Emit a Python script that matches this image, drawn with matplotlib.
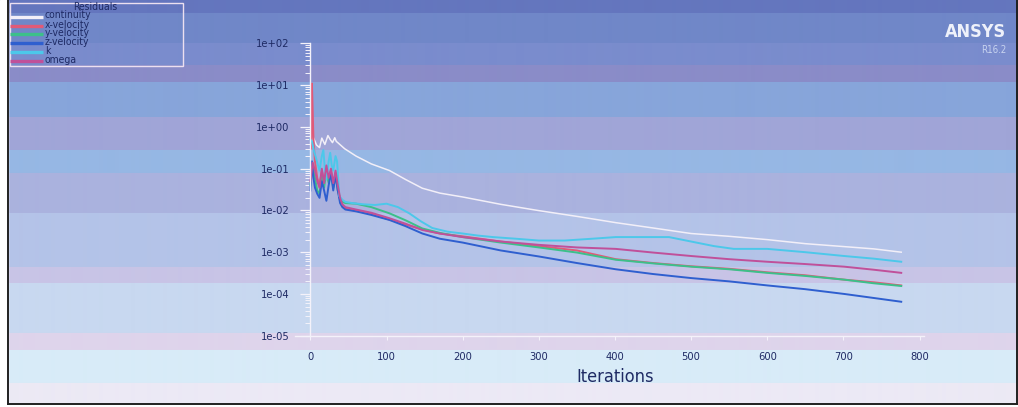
import numpy as np
import matplotlib
matplotlib.use("Agg")
import matplotlib.pyplot as plt
from matplotlib.patches import Rectangle
from matplotlib.ticker import FixedLocator, FixedFormatter, LogLocator, NullFormatter

# ---------------- data ----------------
series_names = ["continuity", "x-velocity", "y-velocity", "z-velocity", "k", "omega"]

it_cont = [1, 4, 8, 12, 15, 19, 23, 26, 29, 32, 34, 36, 45, 60, 80, 104, 125, 147, 170, 200,
           250, 300, 350, 401, 450, 500, 550, 600, 650, 701, 740, 776]
continuity = [0.3, 0.55, 0.37, 0.32, 0.54, 0.38, 0.62, 0.5, 0.42, 0.55, 0.45, 0.42, 0.3, 0.2,
              0.13, 0.09, 0.055, 0.034, 0.026, 0.021, 0.014, 0.0099, 0.0072, 0.0051, 0.0038,
              0.0028, 0.0024, 0.0020, 0.0016, 0.00136, 0.0012, 0.001]

it_x = [1, 2, 3, 4, 6, 9, 12, 15, 18, 21, 24, 27, 30, 33, 36, 39, 42, 46, 60, 80, 104, 125,
        147, 170, 200, 250, 300, 350, 401, 450, 500, 550, 600, 650, 701, 740, 776]
xvel = [0.3, 11, 2.5, 0.5, 0.15, 0.06, 0.04, 0.09, 0.05, 0.1, 0.05, 0.09, 0.04, 0.08, 0.03,
        0.018, 0.013, 0.011, 0.0098, 0.0082, 0.006, 0.0046, 0.0035, 0.0028, 0.0024, 0.0018,
        0.0014, 0.0011, 0.00068, 0.00055, 0.00046, 0.0004, 0.00033, 0.00028, 0.00022,
        0.00019, 0.00016]

it_y = [0, 3, 6, 9, 12, 15, 18, 21, 24, 27, 30, 33, 36, 39, 42, 46, 60, 80, 104, 125, 147,
        170, 200, 250, 300, 350, 401, 450, 500, 550, 600, 650, 701, 740, 776]
yvel = [0.04, 0.12, 0.06, 0.03, 0.025, 0.07, 0.035, 0.09, 0.045, 0.08, 0.035, 0.07, 0.03,
        0.02, 0.016, 0.015, 0.0145, 0.012, 0.0085, 0.0058, 0.0037, 0.0029, 0.0023, 0.0017,
        0.0013, 0.00098, 0.00066, 0.00054, 0.00045, 0.00039, 0.00032, 0.00027, 0.00022,
        0.00018, 0.000155]

it_z = [0, 2, 4, 6, 9, 12, 15, 18, 21, 24, 27, 30, 33, 36, 39, 42, 46, 60, 80, 104, 125, 147,
        170, 200, 250, 300, 350, 401, 450, 500, 550, 600, 650, 701, 740, 776]
zvel = [0.03, 0.15, 0.06, 0.035, 0.025, 0.02, 0.05, 0.03, 0.017, 0.04, 0.08, 0.03, 0.07, 0.03,
        0.015, 0.012, 0.0105, 0.0095, 0.0078, 0.0059, 0.0042, 0.0028, 0.0021, 0.0017, 0.0011,
        0.00079, 0.00055, 0.00039, 0.0003, 0.00024, 0.0002, 0.00016, 0.00013, 0.0001,
        0.00008, 0.000065]

it_k = [0, 2, 5, 7, 10, 12, 15, 17, 19, 21, 24, 26, 28, 30, 33, 35, 38, 42, 46, 55, 70, 85,
        100, 115, 130, 145, 160, 180, 200, 220, 240, 270, 300, 334, 370, 401, 440, 471, 500,
        530, 556, 600, 650, 701, 740, 776]
k = [0.5, 0.45, 0.25, 0.19, 0.12, 0.09, 0.2, 0.28, 0.1, 0.055, 0.15, 0.24, 0.12, 0.09, 0.2,
     0.15, 0.022, 0.018, 0.016, 0.015, 0.014, 0.0135, 0.0145, 0.012, 0.0085, 0.0055, 0.0038,
     0.0031, 0.0028, 0.0025, 0.0023, 0.0021, 0.0019, 0.0019, 0.0021, 0.0023, 0.0023, 0.0023,
     0.0018, 0.0014, 0.0012, 0.0012, 0.001, 0.00081, 0.0007, 0.00059]

it_w = [0, 3, 6, 9, 12, 15, 18, 21, 24, 27, 30, 33, 36, 39, 42, 46, 60, 80, 104, 125, 147, 170,
        200, 250, 300, 350, 401, 450, 500, 550, 600, 650, 701, 740, 776]
omega = [0.05, 0.14, 0.09, 0.05, 0.035, 0.1, 0.045, 0.12, 0.06, 0.1, 0.045, 0.09, 0.04, 0.02,
         0.014, 0.012, 0.0105, 0.0088, 0.0065, 0.0048, 0.0034, 0.0028, 0.0023, 0.0018, 0.0015,
         0.0013, 0.0012, 0.00098, 0.00081, 0.00068, 0.00059, 0.00052, 0.00045, 0.00038, 0.00032]

x_ticks = [0, 100, 200, 300, 400, 500, 600, 700, 800]
x_tick_labels = ["0", "100", "200", "300", "400", "500", "600", "700", "800"]
y_ticks = [1e-5, 1e-4, 1e-3, 1e-2, 1e-1, 1e0, 1e1, 1e2]
y_tick_labels = ["1e-05", "1e-04", "1e-03", "1e-02", "1e-01", "1e+00", "1e+01", "1e+02"]

# ---------------- style ----------------
colors = ["#f2eff8", "#e05a78", "#3cc08a", "#2f5fcf", "#4cc8ea", "#c0509a"]
widths = [1.1, 1.4, 1.4, 1.4, 1.4, 1.4]
txt_color = "#1e2a64"
plt.rcParams["font.family"] = ["DejaVu Sans"]
plt.rcParams["font.stretch"] = "condensed"

W, H = 1018, 407
fig = plt.figure(figsize=(W / 100, H / 100), dpi=100)
fig.patch.set_facecolor("white")

# background bands (pixel rows from top, rgb)
bands = [
    (0, 13, (100, 118, 190)),
    (13, 43, (112, 135, 200)),
    (43, 65, (122, 140, 205)),
    (65, 82, (138, 140, 200)),
    (82, 117, (135, 165, 218)),
    (117, 150, (160, 165, 215)),
    (150, 173, (150, 183, 228)),
    (173, 213, (170, 178, 222)),
    (213, 267, (180, 195, 232)),
    (267, 283, (200, 196, 230)),
    (283, 333, (200, 216, 240)),
    (333, 350, (222, 212, 235)),
    (350, 383, (216, 235, 248)),
    (383, 407, (236, 233, 245)),
]
img = np.zeros((H, 1, 3))
for y0, y1, c in bands:
    img[y0:y1, 0, :] = np.array(c) / 255.0
bg = fig.add_axes([0, 0, 1, 1], zorder=0)
bg.imshow(img, aspect="auto", extent=[0, W, H, 0], interpolation="bilinear")
bg.set_xlim(0, W)
bg.set_ylim(H, 0)
bg.axis("off")
# white margin and black frame
bg.add_patch(Rectangle((0, 0), 8, H, color="white", zorder=2))
bg.add_patch(Rectangle((0, 404), W, 3, color="white", zorder=2))
bg.plot([8, 8], [0, 404], color="#202020", lw=1.4, zorder=3)
bg.plot([8, 1017], [404, 404], color="#202020", lw=1.4, zorder=3)
bg.plot([1017, 1017], [0, 404], color="#202020", lw=1.4, zorder=3)

# ---------------- main axes ----------------
px_per_it = 609.1 / 800.0
x_lo, x_hi = -20, 806
left_px = 310.4 + x_lo * px_per_it
right_px = 310.4 + x_hi * px_per_it
top_px, bot_px = 43.4, 335.7
ax = fig.add_axes([left_px / W, 1 - bot_px / H, (right_px - left_px) / W, (bot_px - top_px) / H],
                  zorder=1)
ax.patch.set_alpha(0)

all_it = [it_cont, it_x, it_y, it_z, it_k, it_w]
all_val = [continuity, xvel, yvel, zvel, k, omega]
for name, xs, ys, c, lw in zip(series_names, all_it, all_val, colors, widths):
    ax.plot(xs, ys, color=c, lw=lw, label=name, solid_joinstyle="round")

ax.set_yscale("log")
ax.set_xlim(x_lo, x_hi)
ax.set_ylim(1e-5, 1e2)
for s in ["top", "right"]:
    ax.spines[s].set_visible(False)
ax.spines["left"].set_position(("data", 0))
ax.spines["left"].set_color("#f4f2fa")
ax.spines["bottom"].set_color("#f4f2fa")
ax.spines["left"].set_linewidth(1.0)
ax.spines["bottom"].set_linewidth(1.0)

ax.yaxis.set_major_locator(FixedLocator(y_ticks))
ax.yaxis.set_major_formatter(FixedFormatter(y_tick_labels))
ax.yaxis.set_minor_locator(LogLocator(base=10, subs=np.arange(2, 10), numticks=20))
ax.yaxis.set_minor_formatter(NullFormatter())
ax.xaxis.set_major_locator(FixedLocator(x_ticks))
ax.xaxis.set_major_formatter(FixedFormatter(x_tick_labels))

ax.tick_params(axis="y", which="major", direction="out", length=7, width=0.9,
               color="#f4f2fa", pad=8, labelsize=8, labelcolor=txt_color)
ax.tick_params(axis="y", which="minor", direction="out", length=3.5, width=0.7,
               color="#f4f2fa")
ax.tick_params(axis="x", which="major", direction="out", length=3, width=0.8,
               color="#f4f2fa", pad=9, labelsize=8, labelcolor=txt_color)

ax.set_xlabel("Iterations", fontsize=13, color=txt_color)
ax.xaxis.set_label_coords((310.4 + 400 * px_per_it - left_px) / (right_px - left_px),
                          (bot_px - 377) / (bot_px - top_px), transform=ax.transAxes)
ax.xaxis.label.set_va("center")

# ---------------- legend (Fluent style) ----------------
leg_edge = "#ece0f0"
bg.add_patch(Rectangle((10, 2.5), 173, 63.5, fill=False, edgecolor=leg_edge, lw=1.0, zorder=4))
bg.text(95, 6.5, "Residuals", fontsize=7.5, color=txt_color,
        ha="center", va="center", zorder=5)
entry_y = [16.5, 25.5, 34.3, 43.0, 51.7, 61.0]
for name, c, yy in zip(series_names, colors, entry_y):
    bg.plot([10, 43], [yy, yy], color=c, lw=2.4, solid_capstyle="butt", zorder=4)
    bg.text(45, yy - 1.0, name, fontsize=7.5, color=txt_color,
            ha="left", va="center", zorder=5)

# ---------------- branding ----------------
bg.text(1006, 32, "ANSYS", fontsize=13, fontweight="bold", color="#eef1fa",
        ha="right", va="center", zorder=5)
bg.text(1006, 50, "R16.2", fontsize=7, color="#c8d4f0",
        ha="right", va="center", zorder=5)

fig.savefig("out.png", dpi=100)
